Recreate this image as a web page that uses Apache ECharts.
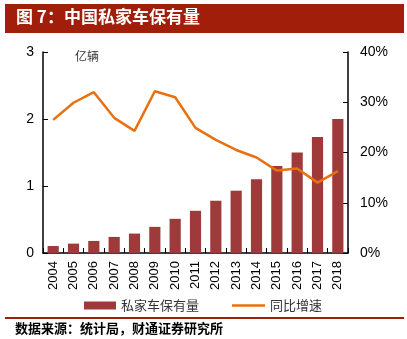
<!DOCTYPE html>
<html><head><meta charset="utf-8">
<script src="https://cdn.jsdelivr.net/npm/echarts@6/dist/echarts.min.js"></script>
<style>html,body{margin:0;padding:0;background:#fff}#c{width:407px;height:339px}</style>
</head><body><div id="c"></div>
<script>
const years = ['2004','2005','2006','2007','2008','2009','2010','2011','2012','2013','2014','2015','2016','2017','2018'];
const stock = [0.104,0.14,0.18,0.24,0.29,0.39,0.51,0.63,0.78,0.93,1.10,1.30,1.50,1.73,2.00];
const growth = [26.5,29.9,32.0,26.9,24.3,32.2,31.0,24.9,22.5,20.5,19.0,16.4,16.8,14.0,16.3];
const leftTicks = [0,1,2,3];
const rightTicks = [0,10,20,30,40];
const titleText = '图 7：中国私家车保有量';
const sourceText = '数据来源：统计局，财通证券研究所';
const unitText = '亿辆';
const barName = '私家车保有量';
const lineName = '同比增速';

const numFont = "'Liberation Sans Narrow','Arial Narrow','Liberation Sans',Arial,sans-serif";
const cjk = "'Noto Sans CJK SC',sans-serif";
const chart = echarts.init(document.getElementById('c'), null, {renderer:'canvas'});
chart.setOption({
  animation:false,
  backgroundColor:'#fff',
  grid:{left:43,right:59,top:52,bottom:86,containLabel:false},
  graphic:[
    {type:'rect',shape:{x:5,y:4,width:399,height:29},style:{fill:'#A01E0A'}},
    {type:'text',left:16,top:8,style:{text:titleText,fill:'#fff',font:"bold 17px "+cjk}},
    {type:'text',left:75,top:50,style:{text:unitText,fill:'#333',font:"12px "+cjk}},
    {type:'rect',shape:{x:5,y:317,width:399,height:2},style:{fill:'#A01E0A'}},
    {type:'text',left:15,top:322,style:{text:sourceText,fill:'#000',font:"bold 13px "+cjk}}
  ],
  legend:[{
    left:79,top:294,itemWidth:32,itemHeight:8,
    textStyle:{fontFamily:cjk,fontSize:13,color:'#333'},
    data:[{name:barName,icon:'rect'}]
  },{
    left:227,top:294,itemWidth:33,itemHeight:2.5,
    textStyle:{fontFamily:cjk,fontSize:13,color:'#333'},
    data:[{name:lineName,icon:'rect'}]
  }],
  xAxis:{
    type:'category',data:years,boundaryGap:true,
    axisLine:{lineStyle:{color:'#000',width:1.5}},
    axisTick:{show:true,inside:true,length:5,alignWithLabel:false,lineStyle:{color:'#000'}},
    axisLabel:{rotate:90,interval:0,fontFamily:numFont,fontSize:13,color:'#000',margin:8}
  },
  yAxis:[
    {type:'value',min:leftTicks[0],max:leftTicks[leftTicks.length-1],interval:1,
     axisLine:{show:true,lineStyle:{color:'#000',width:1.5}},
     axisTick:{show:true,inside:true,length:5,lineStyle:{color:'#000'}},
     splitLine:{show:false},
     axisLabel:{fontFamily:numFont,fontSize:14,color:'#000',margin:9}},
    {type:'value',min:rightTicks[0],max:rightTicks[rightTicks.length-1],interval:10,position:'right',
     axisLine:{show:true,lineStyle:{color:'#000',width:1.5}},
     axisTick:{show:true,inside:true,length:5,lineStyle:{color:'#000'}},
     splitLine:{show:false},
     axisLabel:{formatter:'{value}%',fontFamily:numFont,fontSize:14,color:'#000',margin:12}}
  ],
  series:[
    {name:barName,type:'bar',data:stock,yAxisIndex:0,barCategoryGap:'45%',
     itemStyle:{color:'#9E3A3A'}},
    {name:lineName,type:'line',data:growth,yAxisIndex:1,symbol:'none',
     lineStyle:{color:'#E8700F',width:2.5},itemStyle:{color:'#E8700F'}}
  ]
});
</script></body></html>
